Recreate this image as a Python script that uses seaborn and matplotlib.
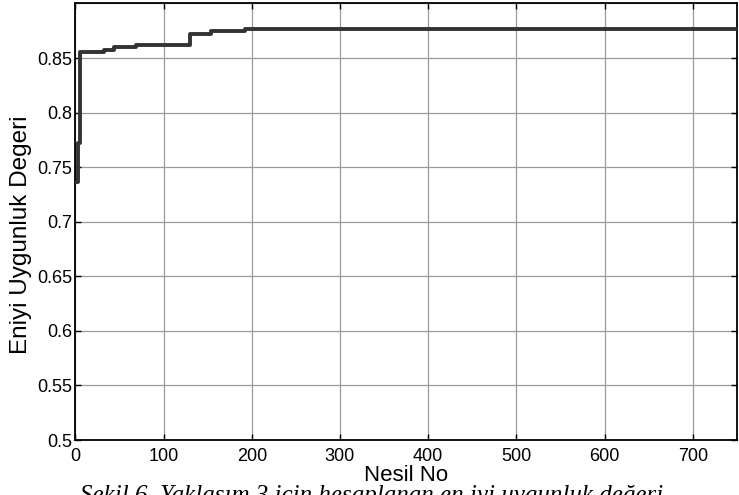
import matplotlib
matplotlib.use("Agg")
import matplotlib.pyplot as plt
import seaborn as sns
import pandas as pd

# Data: generation where the best fitness changes, and the new value
generations = [1, 3, 5, 33, 44, 69, 130, 154, 192, 750]
best_fitness = [0.736, 0.7725, 0.8558, 0.857, 0.8603, 0.8619, 0.8717, 0.8750, 0.8762, 0.8762]
x_ticks = [0, 100, 200, 300, 400, 500, 600, 700]
y_ticks = [0.5, 0.55, 0.6, 0.65, 0.7, 0.75, 0.8, 0.85]
y_tick_labels = ["0.5", "0.55", "0.6", "0.65", "0.7", "0.75", "0.8", "0.85"]
x_label = "Nesil No"
y_label = "Eniyi Uygunluk Degeri"
caption = "Şekil 6. Yaklaşım 3 için hesaplanan en iyi uygunluk değeri"

sns.set_style("white")
plt.rcParams["font.family"] = ["Liberation Sans", "DejaVu Sans"]

df = pd.DataFrame({"gen": generations, "fit": best_fitness})

fig = plt.figure(figsize=(7.39, 4.95), dpi=100)
ax = fig.add_axes([0.102, 0.111, 0.895, 0.882])

sns.lineplot(data=df, x="gen", y="fit", ax=ax, drawstyle="steps-post",
             color="#333333", linewidth=2.8, zorder=3)

ax.set_xlim(0, 750)
ax.set_ylim(0.5, 0.9)
ax.set_xticks(x_ticks)
ax.set_xticklabels([str(t) for t in x_ticks])
ax.set_yticks(y_ticks)
ax.set_yticklabels(y_tick_labels)

ax.grid(True, color="#9a9a9a", linewidth=0.9, linestyle="-")
ax.axhline(0.9, color="#9a9a9a", linewidth=0.9)
for s in ax.spines.values():
    s.set_visible(True)
    s.set_color("black")
    s.set_linewidth(1.3)

ax.tick_params(axis="both", direction="in", length=4, width=1, color="black",
               labelsize=13, top=True, right=True, bottom=True, left=True,
               labelcolor="black")
ax.tick_params(axis="x", pad=6)
ax.tick_params(axis="y", pad=2)

ax.set_xlabel(x_label, fontsize=16, labelpad=0, color="black")
ax.set_ylabel(y_label, fontsize=17.5, color="black")
ax.yaxis.set_label_coords(-0.066, 0.47)

fig.text(0.108, -0.0141, caption, fontsize=18, style="italic",
         family=["Liberation Serif", "DejaVu Serif"], va="baseline", ha="left",
         color="black")

fig.savefig("out.png", dpi=100)
